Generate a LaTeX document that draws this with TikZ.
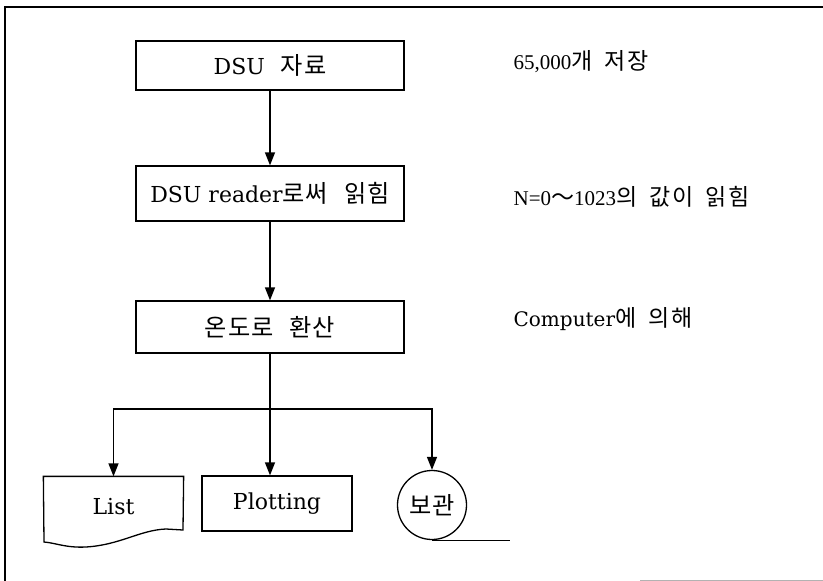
\documentclass[tikz,border=0pt]{standalone}
\usepackage{fontspec}
\setmainfont{DejaVu Serif}
\newfontfamily\kr{Noto Sans CJK KR}[Scale=1.1, LetterSpace=4, WordSpace=2.5]
\newfontfamily\krn{Noto Sans CJK KR}[Scale=1.15, LetterSpace=6, WordSpace=1.9]
\newfontfamily\numf{Liberation Serif}
\usetikzlibrary{arrows.meta}
\newcommand\K[1]{{\kr #1}}
\newcommand\KN[1]{{\krn #1}}
\newcommand\NUM[1]{{\numf\fontsize{21}{24}\selectfont #1}}

\begin{document}
\begin{tikzpicture}[x=1pt, y=-1pt, line width=1.3pt,
  box/.style={draw, rectangle, inner sep=0pt, font=\fontsize{22}{26}\selectfont},
  note/.style={anchor=base west, inner sep=0pt, font=\fontsize{20}{24}\selectfont},
  conn/.style={-{Triangle[length=13pt, width=10pt]}},
  frame/.style={line width=1.4pt}]
\useasboundingbox (0,0) rectangle (823,581);

% outer frame (left and top edges, faint bottom edge)
\draw[frame] (5,581) -- (5,7) -- (823,7);
\draw[line width=1pt, black!30] (640,580) -- (823,580);

% main process boxes
\node[box, minimum width=268pt, minimum height=49pt] (b1) at (270,65.5) {DSU\K{\ 자료}};
\node[box, minimum width=268pt, minimum height=55pt] (b2) at (270,193.5) {DSU reader\K{로써 읽힘}};
\node[box, minimum width=268pt, minimum height=52pt] (b3) at (270,327) {\K{온도로 환산}};

% outputs
\node[font=\fontsize{22}{26}\selectfont, minimum width=139pt, minimum height=60pt, inner sep=0pt] (lst) at (113.5,507) {List};
\draw (lst.north west) -- (lst.north east) -- (183,530)
  -- (166,529) .. controls (140,530) and (120,545) .. (86,547)
  .. controls (66,548) and (56,543) .. (44,542) -- cycle;
\node[box, minimum width=150pt, minimum height=55pt] (plot) at (277,503.5) {Plotting};
\node[draw, circle, minimum size=69pt, inner sep=0pt, font=\fontsize{22}{26}\selectfont] (keep) at (432,505) {\K{보관}};
\draw (keep.south) -- ++(78,0);

% connectors
\draw[conn] (b1.south) -- (b2.north);
\draw[conn] (b2.south) -- (b3.north);
\coordinate (split) at (270,409);
\draw (b3.south) -- (split);
\draw[conn] (split) -| (lst.north);
\draw[conn] (split) -- (split |- plot.north);
\draw[conn] (split) -| (keep.north);

% side notes
\node[note] (n1) at (513,69) {\NUM{65,000}\KN{개 저장}};
\node[note] (n2) at (513,205) {\NUM{N=0}\KN{～}\NUM{1023}\KN{의 값이 읽힘}};
\node[note] (n3) at (513,326) {Computer\KN{에 의해}};
\end{tikzpicture}
\end{document}
